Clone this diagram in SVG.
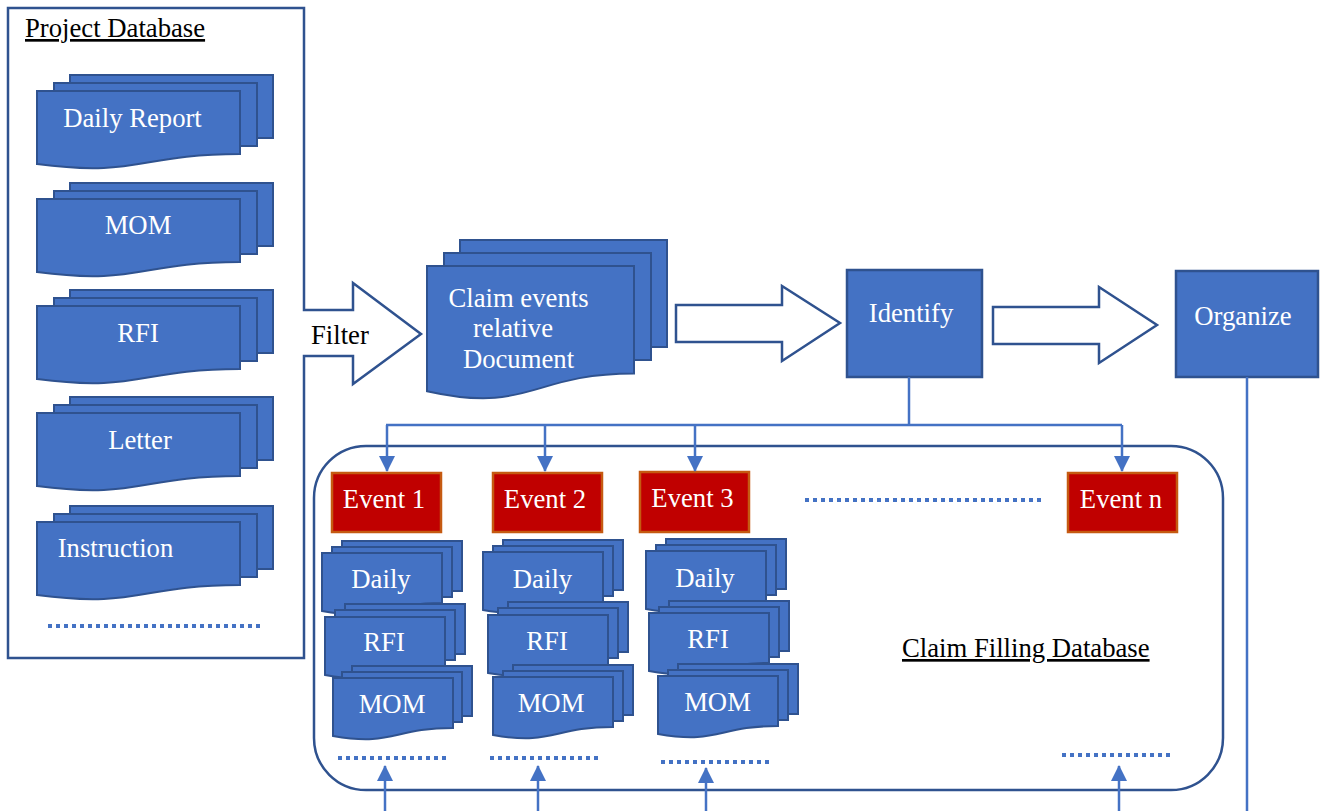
<svg xmlns="http://www.w3.org/2000/svg" xmlns:xlink="http://www.w3.org/1999/xlink" width="1320" height="811" viewBox="0 0 1320 811">
  <style>
    text { font-family: "Liberation Serif", "Times New Roman", serif; font-size: 26.7px; }
    .lbl { fill: #ffffff; text-anchor: middle; }
    .dark { fill: #000000; }
    .sheet { fill: #4472c4; stroke: #2f528f; stroke-width: 2; }
    .box { fill: #4472c4; stroke: #2f528f; stroke-width: 2.5; }
    .outline { fill: #ffffff; stroke: #2f528f; stroke-width: 2.5; stroke-linejoin: miter; }
    .frame { fill: none; stroke: #2f528f; stroke-width: 2.5; }
    .event { fill: #c00000; stroke: #c55a11; stroke-width: 2.5; }
    .wire { fill: none; stroke: #4472c4; stroke-width: 2.5; }
    .dots { fill: none; stroke: #4472c4; stroke-width: 4; stroke-dasharray: 4 4; }
  </style>
  <defs>
    <!-- large document sheets -->
    <rect id="sheetL" width="203" height="63"/>
    <path id="docL" d="M0,0H203V63C101.5,63 101.5,86.4 0,73Z"/>
    <!-- claim document sheets -->
    <rect id="sheetC" width="207" height="107"/>
    <path id="docC" d="M0,0H207V107.5C103.5,107.5 103.5,148.3 0,125.2Z"/>
    <!-- small document sheets -->
    <rect id="sheetS" width="120" height="50"/>
    <path id="docS" d="M0,0H120V50C60,50 60,68.6 0,58Z"/>
    <marker id="tri" viewBox="0 0 16 16" refX="15" refY="8" markerWidth="16" markerHeight="16" markerUnits="userSpaceOnUse" orient="auto">
      <path d="M0,0L16,8L0,16Z" fill="#4472c4"/>
    </marker>
  </defs>

  <!-- Project Database frame with the Filter arrow -->
  <g id="project-database">
    <path class="outline" d="M8,8H304V310H353V283L421,334L353,384V356H304V658H8Z"/>
    <text class="dark" x="25" y="37" text-decoration="underline">Project Database</text>
    <line class="dots" x1="48" y1="626" x2="262" y2="626"/>
  </g>
  <g id="filter-label">
    <text class="dark" x="311" y="344">Filter</text>
  </g>

  <g id="doc-daily-report">
    <use href="#sheetL" class="sheet" x="70" y="75"/>
    <use href="#sheetL" class="sheet" x="54" y="83"/>
    <use href="#docL" class="sheet" x="37" y="91"/>
    <text class="lbl" x="132.5" y="127">Daily Report</text>
  </g>
  <g id="doc-mom">
    <use href="#sheetL" class="sheet" x="70" y="183"/>
    <use href="#sheetL" class="sheet" x="54" y="191"/>
    <use href="#docL" class="sheet" x="37" y="199"/>
    <text class="lbl" x="138" y="234">MOM</text>
  </g>
  <g id="doc-rfi">
    <use href="#sheetL" class="sheet" x="70" y="290"/>
    <use href="#sheetL" class="sheet" x="54" y="298"/>
    <use href="#docL" class="sheet" x="37" y="306"/>
    <text class="lbl" x="138" y="342">RFI</text>
  </g>
  <g id="doc-letter">
    <use href="#sheetL" class="sheet" x="70" y="397"/>
    <use href="#sheetL" class="sheet" x="54" y="405"/>
    <use href="#docL" class="sheet" x="37" y="413"/>
    <text class="lbl" x="140" y="449">Letter</text>
  </g>
  <g id="doc-instruction">
    <use href="#sheetL" class="sheet" x="70" y="506"/>
    <use href="#sheetL" class="sheet" x="54" y="514"/>
    <use href="#docL" class="sheet" x="37" y="522"/>
    <text class="lbl" x="115.5" y="557">Instruction</text>
  </g>

  <!-- Claim events relative documents -->
  <g id="claim-documents">
    <use href="#sheetC" class="sheet" x="460" y="240"/>
    <use href="#sheetC" class="sheet" x="444" y="253"/>
    <use href="#docC" class="sheet" x="427" y="266"/>
    <text class="lbl" x="518.5" y="307">Claim events</text>
    <text class="lbl" x="513" y="337">relative</text>
    <text class="lbl" x="518.5" y="368">Document</text>
  </g>

  <!-- block arrows -->
  <g id="arrow-to-identify">
    <path class="outline" d="M676,305H782V286L840,323L782,361V342H676Z"/>
  </g>
  <g id="arrow-to-organize">
    <path class="outline" d="M993,307H1099V287L1157,325L1099,363V344H993Z"/>
  </g>

  <g id="identify">
    <rect class="box" x="847" y="270" width="135" height="107"/>
    <text class="lbl" x="911" y="322">Identify</text>
  </g>
  <g id="organize">
    <rect class="box" x="1176" y="271" width="142" height="106"/>
    <text class="lbl" x="1243" y="325">Organize</text>
  </g>

  <!-- Claim Filling Database container -->
  <g id="claim-filling-database">
    <rect class="frame" x="314" y="446" width="909" height="344" rx="52" ry="52"/>
    <text class="dark" x="902" y="657" text-decoration="underline">Claim Filling Database</text>
    <line class="dots" x1="805" y1="500" x2="1041" y2="500"/>
    <line class="dots" x1="338" y1="758" x2="446" y2="758"/>
    <line class="dots" x1="490" y1="758" x2="598" y2="758"/>
    <line class="dots" x1="661" y1="762" x2="769" y2="762"/>
    <line class="dots" x1="1062" y1="755" x2="1170" y2="755"/>
  </g>

  <g id="event-1">
    <rect class="event" x="332" y="473" width="109" height="59"/>
    <text class="lbl" x="384" y="508">Event 1</text>
  </g>
  <g id="event-2">
    <rect class="event" x="493" y="473" width="109" height="59"/>
    <text class="lbl" x="545" y="508">Event 2</text>
  </g>
  <g id="event-3">
    <rect class="event" x="640" y="472" width="109" height="60"/>
    <text class="lbl" x="692.5" y="507">Event 3</text>
  </g>
  <g id="event-n">
    <rect class="event" x="1068" y="473" width="109" height="59"/>
    <text class="lbl" x="1121" y="508">Event n</text>
  </g>

  <!-- event 1 documents -->
  <g id="e1-daily">
    <use href="#sheetS" class="sheet" x="342" y="541"/>
    <use href="#sheetS" class="sheet" x="332" y="547"/>
    <use href="#docS" class="sheet" x="322" y="553"/>
    <text class="lbl" x="381" y="588">Daily</text>
  </g>
  <g id="e1-rfi">
    <use href="#sheetS" class="sheet" x="345" y="604"/>
    <use href="#sheetS" class="sheet" x="335" y="610"/>
    <use href="#docS" class="sheet" x="325" y="617"/>
    <text class="lbl" x="384" y="651">RFI</text>
  </g>
  <g id="e1-mom">
    <use href="#sheetS" class="sheet" x="352" y="666"/>
    <use href="#sheetS" class="sheet" x="342" y="672"/>
    <use href="#docS" class="sheet" x="333" y="678"/>
    <text class="lbl" x="392" y="713">MOM</text>
  </g>

  <!-- event 2 documents -->
  <g id="e2-daily">
    <use href="#sheetS" class="sheet" x="503" y="540"/>
    <use href="#sheetS" class="sheet" x="493" y="546"/>
    <use href="#docS" class="sheet" x="483" y="552"/>
    <text class="lbl" x="542.5" y="588">Daily</text>
  </g>
  <g id="e2-rfi">
    <use href="#sheetS" class="sheet" x="508" y="602"/>
    <use href="#sheetS" class="sheet" x="498" y="608"/>
    <use href="#docS" class="sheet" x="488" y="615"/>
    <text class="lbl" x="547" y="650">RFI</text>
  </g>
  <g id="e2-mom">
    <use href="#sheetS" class="sheet" x="513" y="665"/>
    <use href="#sheetS" class="sheet" x="503" y="671"/>
    <use href="#docS" class="sheet" x="493" y="677"/>
    <text class="lbl" x="551" y="712">MOM</text>
  </g>

  <!-- event 3 documents -->
  <g id="e3-daily">
    <use href="#sheetS" class="sheet" x="666" y="539"/>
    <use href="#sheetS" class="sheet" x="656" y="545"/>
    <use href="#docS" class="sheet" x="646" y="551"/>
    <text class="lbl" x="705" y="587">Daily</text>
  </g>
  <g id="e3-rfi">
    <use href="#sheetS" class="sheet" x="669" y="601"/>
    <use href="#sheetS" class="sheet" x="659" y="607"/>
    <use href="#docS" class="sheet" x="649" y="613"/>
    <text class="lbl" x="708" y="648">RFI</text>
  </g>
  <g id="e3-mom">
    <use href="#sheetS" class="sheet" x="678" y="664"/>
    <use href="#sheetS" class="sheet" x="668" y="670"/>
    <use href="#docS" class="sheet" x="658" y="676"/>
    <text class="lbl" x="717.5" y="711">MOM</text>
  </g>

  <!-- connectors -->
  <g id="connectors">
    <polyline class="wire" points="909,377 909,425"/>
    <line class="wire" x1="386" y1="425" x2="1122" y2="425"/>
    <line class="wire" x1="387" y1="425" x2="387" y2="471" marker-end="url(#tri)"/>
    <line class="wire" x1="545" y1="425" x2="545" y2="471" marker-end="url(#tri)"/>
    <line class="wire" x1="695" y1="425" x2="695" y2="471" marker-end="url(#tri)"/>
    <line class="wire" x1="1122" y1="425" x2="1122" y2="471" marker-end="url(#tri)"/>
    <line class="wire" x1="1247" y1="377" x2="1247" y2="811"/>
    <line class="wire" x1="385" y1="811" x2="385" y2="766" marker-end="url(#tri)"/>
    <line class="wire" x1="538" y1="811" x2="538" y2="766" marker-end="url(#tri)"/>
    <line class="wire" x1="706" y1="811" x2="706" y2="768" marker-end="url(#tri)"/>
    <line class="wire" x1="1119" y1="811" x2="1119" y2="766" marker-end="url(#tri)"/>
  </g>
</svg>
